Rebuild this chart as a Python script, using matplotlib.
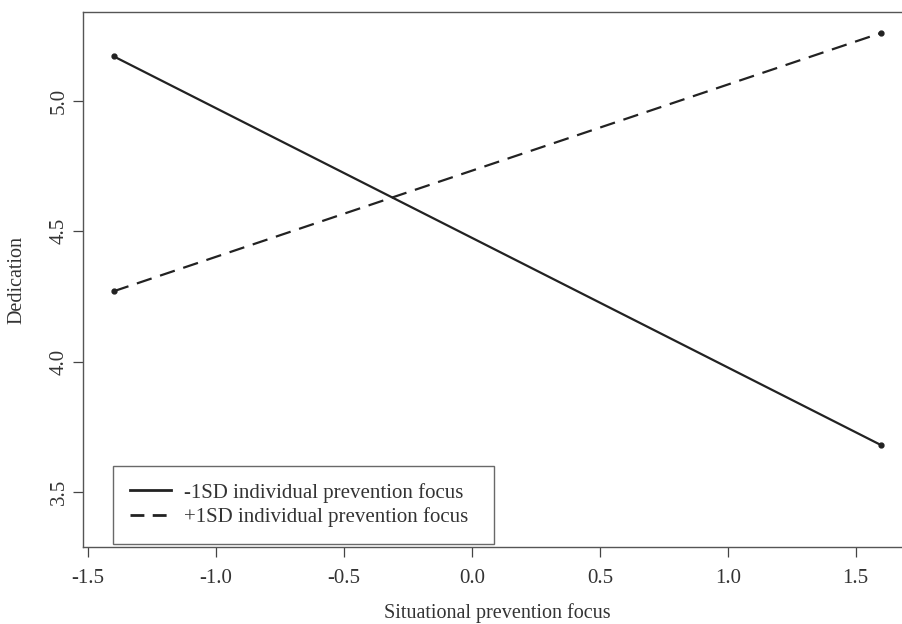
import matplotlib
matplotlib.use("Agg")
import matplotlib.pyplot as plt

# simple slopes: dedication by situational prevention focus
situational = [-1.4, 1.6]
low_individual = [5.17, 3.68]    # -1SD individual prevention focus
high_individual = [4.27, 5.26]   # +1SD individual prevention focus

series_labels = ["-1SD individual prevention focus",
                 "+1SD individual prevention focus"]
x_ticks = [-1.5, -1.0, -0.5, 0.0, 0.5, 1.0, 1.5]
y_ticks = [3.5, 4.0, 4.5, 5.0]

plt.rcParams["font.family"] = ["Liberation Serif", "DejaVu Serif"]

fig = plt.figure(figsize=(9.03, 6.24), dpi=100)
ax = fig.add_axes([83 / 903, 77 / 624, 829 / 903, 535 / 624])

ax.plot(situational, low_individual, color="#222222", lw=1.6,
        marker="o", ms=3.5, label=series_labels[0])
ax.plot(situational, high_individual, color="#222222", lw=1.6,
        ls=(0, (7, 4)), marker="o", ms=3.5, label=series_labels[1])

ax.set_xlim(-1.52, 1.72)
ax.set_ylim(3.29, 5.34)
ax.set_xticks(x_ticks)
ax.set_xticklabels([f"{v:.1f}" for v in x_ticks])
ax.set_yticks(y_ticks)
ax.set_yticklabels([f"{v:.1f}" for v in y_ticks], rotation=90, va="center")
ax.tick_params(direction="out", length=7, width=0.9, colors="#444444",
               labelsize=15, labelcolor="#333333")
ax.tick_params(axis="x", pad=9)
ax.tick_params(axis="y", pad=3)

for s in ax.spines.values():
    s.set_color("#555555")
    s.set_linewidth(1.0)
ax.spines["right"].set_visible(False)

ax.set_xlabel("Situational prevention focus", fontsize=14.5, color="#333333",
              labelpad=11)
ax.set_ylabel("Dedication", fontsize=14.5, color="#333333", labelpad=17)

# legend box spans a fixed region, text left-aligned inside it
leg = ax.legend(loc="upper left",
                bbox_to_anchor=(113 / 903, 85 / 624, 381 / 903, 73 / 624),
                bbox_transform=fig.transFigure, mode="expand", fontsize=15,
                frameon=True, fancybox=False, handlelength=2.0,
                handletextpad=0.6, borderpad=0.8, labelspacing=0.22,
                borderaxespad=0)
leg.get_frame().set_edgecolor("#444444")
leg.get_frame().set_linewidth(1.0)
for h in leg.get_lines():
    h.set_marker("")
    h.set_linewidth(2.0)
leg.get_lines()[1].set_linestyle((0, (5, 3)))
for t in leg.get_texts():
    t.set_color("#333333")

fig.savefig("out.png", dpi=100)
